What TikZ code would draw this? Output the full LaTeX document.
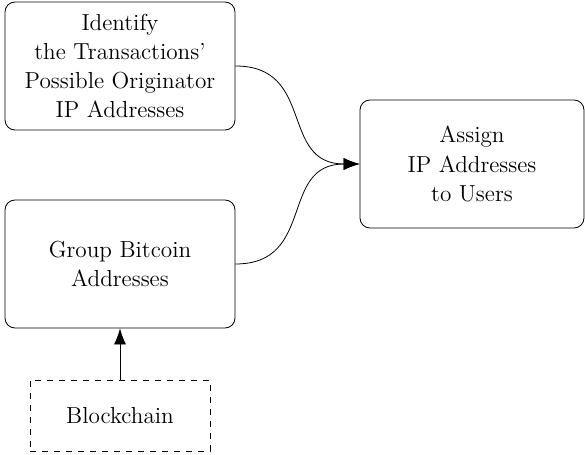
\documentclass[tikz,border=0pt]{standalone}
\usetikzlibrary{arrows.meta}
\begin{document}
\begin{tikzpicture}[x=0.5pt,y=-0.5pt,
  font=\fontsize{11.6}{14.6}\selectfont,
  box/.style={draw, rounded corners=5pt, align=center, inner sep=0pt},
  dbox/.style={draw, dashed, align=center, inner sep=0pt},
  conn/.style={-{Latex[length=8pt,width=6pt]}}]
\useasboundingbox (0,0) rectangle (585,455);
\node[box, minimum width=115pt, minimum height=64pt] (ident) at (120,66)
  {Identify\\the Transactions'\\Possible Originator\\IP Addresses};
\node[box, minimum width=115pt, minimum height=64pt] (group) at (120,264)
  {Group Bitcoin\\Addresses};
\node[box, minimum width=112pt, minimum height=64pt] (assign) at (472,164)
  {Assign\\IP Addresses\\to Users};
\node[dbox, minimum width=90pt, minimum height=35.5pt] (chain) at (120,415.5)
  {Blockchain};
\draw[conn] (ident.east) to[out=0,in=180,looseness=1.3] (assign.west);
\draw[conn] (group.east) to[out=0,in=180,looseness=1.3] (assign.west);
\draw[conn] (chain.north) -- (group.south);
\end{tikzpicture}
\end{document}
